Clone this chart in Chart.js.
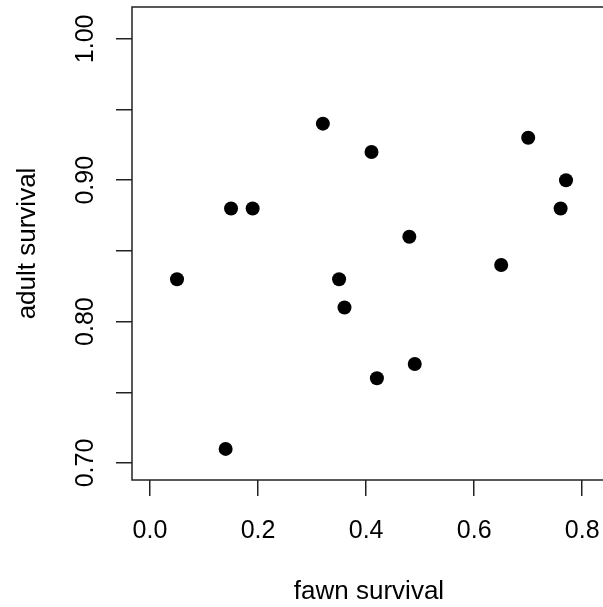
<!DOCTYPE html>
<html>
<head>
<meta charset="utf-8">
<script src="https://cdn.jsdelivr.net/npm/chart.js@4/dist/chart.umd.min.js"></script>
<style>
  html, body { margin: 0; padding: 0; overflow: hidden; background: #fff; }
  #wrap { width: 620px; height: 607px; }
</style>
</head>
<body>
<div id="wrap"><canvas id="plot"></canvas></div>
<script>
// fawn vs adult survival
const fawnSurvival  = [0.05, 0.14, 0.15, 0.19, 0.32, 0.35, 0.36, 0.41, 0.42, 0.48, 0.49, 0.65, 0.70, 0.76, 0.77];
const adultSurvival = [0.83, 0.71, 0.88, 0.88, 0.94, 0.83, 0.81, 0.92, 0.76, 0.86, 0.77, 0.84, 0.93, 0.88, 0.90];

const xTicks = [0.0, 0.2, 0.4, 0.6, 0.8];
const xTickLabels = ['0.0', '0.2', '0.4', '0.6', '0.8'];
const yTicks = [0.70, 0.75, 0.80, 0.85, 0.90, 0.95, 1.00];
const yTickLabels = ['0.70', '', '0.80', '', '0.90', '', '1.00'];

const font = "'Liberation Sans', Arial, sans-serif";
const ink = '#222';

const boxPlugin = {
  id: 'box',
  afterDraw(chart) {
    const { ctx, chartArea: a } = chart;
    ctx.save();
    ctx.strokeStyle = ink;
    ctx.lineWidth = 1.5;
    ctx.strokeRect(a.left, a.top, a.right - a.left, a.bottom - a.top);
    ctx.restore();
  }
};

const points = fawnSurvival.map((x, i) => ({ x: x, y: adultSurvival[i] }));

new Chart(document.getElementById('plot'), {
  type: 'scatter',
  data: {
    datasets: [{
      data: points,
      backgroundColor: '#000',
      borderWidth: 0,
      pointRadius: 7,
      pointHoverRadius: 7
    }]
  },
  options: {
    responsive: true,
    maintainAspectRatio: false,
    animation: false,
    layout: { padding: { top: 5, right: 14, left: 0, bottom: 0 } },
    plugins: { legend: { display: false }, tooltip: { enabled: false } },
    scales: {
      x: {
        type: 'linear',
        min: -0.0333,
        max: 0.844,
        afterBuildTicks: s => { s.ticks = xTicks.map(v => ({ value: v })); },
        afterFit: s => { s.height = 127; s.paddingLeft = 0; s.paddingRight = 0; },
        border: { display: false },
        grid: { drawOnChartArea: false, drawTicks: true, tickLength: 16, color: ink, lineWidth: 1.5 },
        ticks: {
          autoSkip: false, maxRotation: 0, padding: 20,
          color: '#000', font: { family: font, size: 25 },
          callback: (v, i) => xTickLabels[i]
        },
        title: {
          display: true, text: 'fawn survival', color: '#000',
          font: { family: font, size: 26 }, padding: { top: 0, bottom: 0 }
        }
      },
      y: {
        type: 'linear',
        min: 0.688,
        max: 1.0225,
        afterBuildTicks: s => { s.ticks = yTicks.map(v => ({ value: v })); },
        afterFit: s => { s.width = 132; s.paddingTop = 0; s.paddingBottom = 0; },
        border: { display: false },
        grid: { drawOnChartArea: false, drawTicks: true, tickLength: 16, color: ink, lineWidth: 1.5 },
        ticks: {
          autoSkip: false, minRotation: 90, maxRotation: 90, padding: 6,
          crossAlign: 'center',
          color: '#000', font: { family: font, size: 25 },
          callback: (v, i) => yTickLabels[i]
        },
        title: {
          display: true, text: 'adult survival', color: '#000',
          font: { family: font, size: 26 }, padding: { top: 12, bottom: 0 }
        }
      }
    }
  },
  plugins: [boxPlugin]
});
</script>
</body>
</html>
